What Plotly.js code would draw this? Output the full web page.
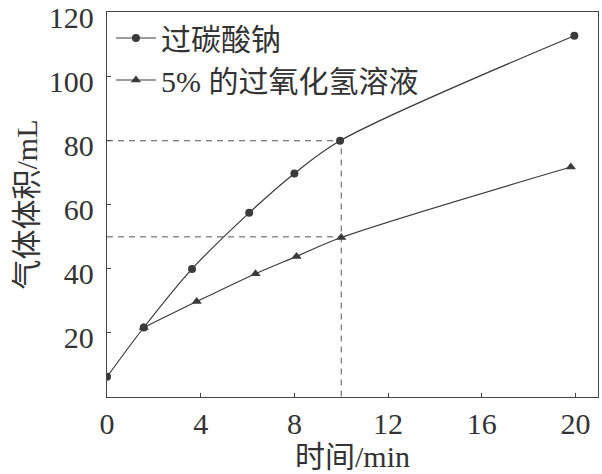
<!DOCTYPE html>
<html><head><meta charset="utf-8">
<script src="https://cdn.plot.ly/plotly-3.0.1.min.js"></script>
<style>html,body{margin:0;padding:0;background:#fff}</style>
</head><body><div id="chart" style="width:602px;height:474px"></div>
<script>
var seriesNames = ['过碳酸钠', '5% 的过氧化氢溶液'];
var timeA = [0, 1.57, 3.63, 6.07, 8.0, 9.95, 19.95];
var volA  = [6.3, 21.7, 40, 57.5, 69.8, 80, 112.8];
var timeB = [1.57, 3.83, 6.34, 8.09, 10, 19.8];
var volB  = [21.7, 29.8, 38.5, 43.9, 49.8, 71.8];
var refTime = 10;
var refVols = [80, 50];
var xTicks = [0, 4, 8, 12, 16, 20];
var yTicks = [20, 40, 60, 80, 100, 120];

var ink = '#3a3a3a';
var serif = 'Liberation Serif, Times New Roman, Noto Sans CJK SC, serif';
var cjk = 'Liberation Serif, Noto Sans CJK SC, serif';

var traces = [
  {x: [0, refTime, refTime], y: [refVols[0], refVols[0], 0], mode: 'lines', showlegend: false,
   line: {color: '#555', width: 1, dash: '6px,5px'}, hoverinfo: 'skip'},
  {x: [0, refTime], y: [refVols[1], refVols[1]], mode: 'lines', showlegend: false,
   line: {color: '#555', width: 1, dash: '6px,5px'}, hoverinfo: 'skip'},
  {x: timeA, y: volA, name: seriesNames[0], mode: 'lines+markers',
   line: {color: ink, width: 1.2, shape: 'spline', smoothing: 0.9},
   marker: {symbol: 'circle', size: 8, color: ink}},
  {x: timeB, y: volB, name: seriesNames[1], mode: 'lines+markers',
   line: {color: ink, width: 1.2, shape: 'spline', smoothing: 0.9},
   marker: {symbol: 'triangle-up', size: 9, color: ink}}
];

var layout = {
  width: 602, height: 474,
  margin: {l: 107, r: 4, t: 12, b: 77},
  paper_bgcolor: '#fff', plot_bgcolor: '#fff',
  showlegend: true,
  legend: {x: 0.008, y: 1.0, xanchor: 'left', yanchor: 'top', bgcolor: 'rgba(0,0,0,0)',
           font: {family: cjk, size: 30, color: '#333'}, tracegroupgap: 0, itemwidth: 40},
  xaxis: {range: [0, 20.96], tickvals: xTicks, ticktext: xTicks.map(String),
          showgrid: false, zeroline: false, showline: true, mirror: true, linecolor: '#444', linewidth: 1.2,
          ticks: 'inside', ticklen: 4, tickcolor: '#444', ticklabelstandoff: 0, ticklabeloverflow: 'allow',
          tickfont: {family: serif, size: 30, color: '#333'},
          title: {text: '时间/min', font: {family: cjk, size: 30, color: '#333'}, standoff: 6}},
  yaxis: {range: [0, 120.2], tickvals: yTicks, ticktext: yTicks.map(String),
          showgrid: false, zeroline: false, showline: true, mirror: true, linecolor: '#444', linewidth: 1.2,
          ticks: 'inside', ticklen: 4, tickcolor: '#444', ticklabelstandoff: 6, ticklabeloverflow: 'allow',
          ticklabelshift: 5,
          tickfont: {family: serif, size: 30, color: '#333'},
          title: {text: '气体体积/mL', font: {family: cjk, size: 30, color: '#333'}, standoff: 2}}
};
Plotly.newPlot('chart', traces, layout, {displayModeBar: false, staticPlot: true});
</script></body></html>
